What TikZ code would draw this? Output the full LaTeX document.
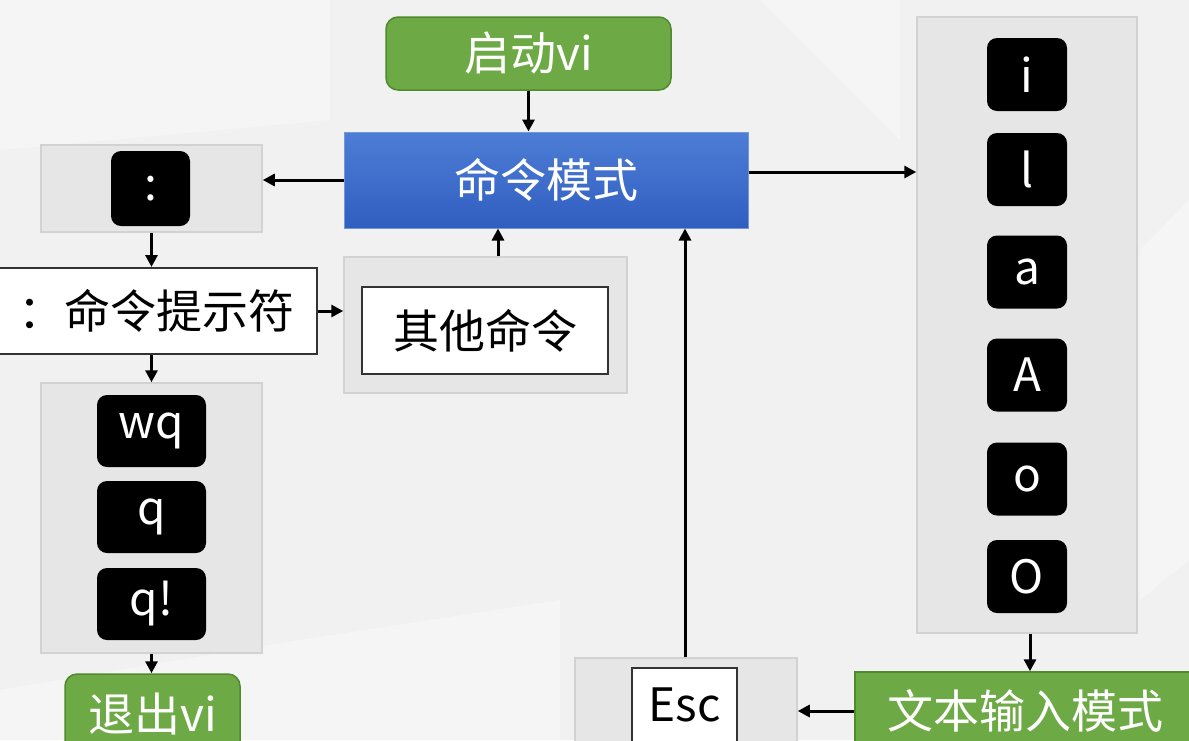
\documentclass[tikz,border=0pt]{standalone}
\usepackage{fontspec}
\setmainfont{Noto Sans CJK SC}
\usetikzlibrary{arrows.meta}
\definecolor{bgc}{HTML}{F1F1F1}
\definecolor{grayfill}{HTML}{E6E6E6}
\definecolor{grayline}{HTML}{D2D2D2}
\definecolor{greenfill}{HTML}{6DAA45}
\definecolor{greenline}{HTML}{4F8A30}
\definecolor{bluetop}{HTML}{4E7DD6}
\definecolor{bluebot}{HTML}{2F5EC0}
\tikzset{
  txt/.style={font=\fontsize{46}{55}\selectfont},
  graybox/.style={draw=grayline, fill=grayfill, line width=1.5pt, minimum width=#1},
  keybox/.style={txt, fill=black, text=white, rounded corners=10pt, inner sep=0pt},
  greenbox/.style={txt, fill=greenfill, draw=greenline, line width=1.5pt, text=white, inner sep=0pt},
  whitebox/.style={txt, fill=white, draw=black!80, line width=2pt, inner sep=0pt},
  arr/.style={line width=3pt, -{Triangle[length=12pt,width=12pt]}},
}
\begin{document}
\begin{tikzpicture}[x=1pt,y=-1pt]
\useasboundingbox (0,0) rectangle (1189,740);
\clip (0,0) rectangle (1189,740);
\fill[bgc] (0,0) rectangle (1189,740);
\fill[white,opacity=0.35] (0,0) -- (330,0) -- (330,120) -- (0,150) -- cycle;
\fill[white,opacity=0.35] (0,740) -- (0,690) -- (300,640) -- (560,600) -- (560,740) -- cycle;
\fill[white,opacity=0.3] (760,0) -- (900,0) -- (900,140) -- cycle;
\fill[white,opacity=0.3] (1140,250) -- (1189,200) -- (1189,560) -- (1140,600) -- cycle;

% start
\node[greenbox, rounded corners=12pt, minimum width=285pt, minimum height=73pt] (start) at (528.5,53.5) {启动vi};
% command mode
\node[txt, text=white, top color=bluetop, bottom color=bluebot, draw=bluetop!80!white, line width=1pt,
      minimum width=404pt, minimum height=96pt, inner sep=0pt] (cmd) at (546,180) {命令模式};

% colon group
\node[graybox=221pt, minimum height=87pt] (colg) at (151.5,188.5) {};
\node[keybox, minimum width=79pt, minimum height=75pt] (colk) at (150.5,188.5) {:};

% prompt
\node[whitebox, minimum width=321pt, minimum height=86pt] (prompt) at (156.5,311) {：命令提示符};

% quit commands
\node[graybox=221pt, minimum height=270pt] (quitg) at (151.5,518) {};
\node[keybox, minimum width=109pt, minimum height=72pt] (kwq) at (151.5,431) {wq};
\node[keybox, minimum width=109pt, minimum height=72pt] (kq) at (151.5,517) {q};
\node[keybox, minimum width=109pt, minimum height=72pt] (kqx) at (151.5,604) {q!};

% quit vi
\node[greenbox, rounded corners=12pt, minimum width=175pt, minimum height=80pt] (quit) at (152.5,714) {退出vi};

% other commands
\node[graybox=283pt, minimum height=136pt] (otherg) at (485.5,325) {};
\node[whitebox, minimum width=246pt, minimum height=87pt] (other) at (485,330.5) {其他命令};

% insert keys
\node[graybox=220pt, minimum height=616pt] (insg) at (1027,325) {};
\node[keybox, minimum width=80pt, minimum height=73pt] (ki) at (1027,74.5) {i};
\node[keybox, minimum width=80pt, minimum height=73pt] (kl) at (1027,169.5) {l};
\node[keybox, minimum width=80pt, minimum height=73pt] (ka) at (1027,272) {a};
\node[keybox, minimum width=80pt, minimum height=73pt] (kA) at (1027,375) {A};
\node[keybox, minimum width=80pt, minimum height=73pt] (ko) at (1027,479) {o};
\node[keybox, minimum width=80pt, minimum height=73pt] (kO) at (1027,576.5) {O};

% text input mode
\node[greenbox, minimum width=340pt, minimum height=78pt] (tin) at (1025,711) {文本输入模式};

% Esc
\node[graybox=222pt, minimum height=106pt] (escg) at (686,711) {};
\node[whitebox, minimum width=105pt, minimum height=74pt] (esc) at (684.5,705) {Esc};

% connectors
\draw[arr] (start.south) -- (start.south |- cmd.north);
\draw[arr] (cmd.west) -- (cmd.west -| colg.east);
\draw[arr] (colg.south) -- (colg.south |- prompt.north);
\draw[arr] (prompt.east) -- (prompt.east -| otherg.west);
\draw[arr] (colg.south |- prompt.south) -- (colg.south |- quitg.north);
\draw[arr] (quitg.south) -- (quitg.south |- quit.north);
\draw[arr] ([xshift=12.5pt]otherg.north) -- ([xshift=12.5pt]otherg.north |- cmd.south);
\draw[arr] ([yshift=8pt]cmd.east) -- ([yshift=8pt]cmd.east -| insg.west);
\draw[arr] ([xshift=3pt]insg.south) -- ([xshift=3pt]insg.south |- tin.north);
\draw[arr] (tin.west) -- (tin.west -| escg.east);
\draw[arr] ([xshift=-1pt]escg.north) -- ([xshift=-1pt]escg.north |- cmd.south);
\end{tikzpicture}
\end{document}
